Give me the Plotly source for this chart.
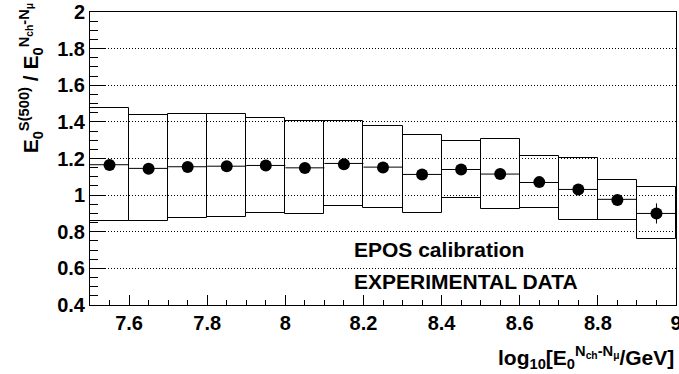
import plotly.graph_objects as go

# ---- data ----
bin_centers = [7.55, 7.65, 7.75, 7.85, 7.95, 8.05, 8.15, 8.25, 8.35, 8.45, 8.55, 8.65, 8.75, 8.85, 8.95]
box_high = [1.474, 1.437, 1.441, 1.443, 1.421, 1.403, 1.403, 1.375, 1.330, 1.295, 1.306, 1.215, 1.204, 1.082, 1.042]
box_low = [0.860, 0.858, 0.873, 0.880, 0.905, 0.896, 0.938, 0.929, 0.902, 0.984, 0.923, 0.927, 0.863, 0.863, 0.758]
box_median = [1.166, 1.146, 1.155, 1.158, 1.162, 1.149, 1.173, 1.153, 1.113, 1.140, 1.115, 1.069, 1.031, 0.977, 0.900]
mean_ratio = [1.165, 1.144, 1.153, 1.158, 1.162, 1.148, 1.169, 1.151, 1.113, 1.140, 1.115, 1.071, 1.031, 0.974, 0.900]
mean_err = [0.010, 0.010, 0.010, 0.010, 0.010, 0.010, 0.012, 0.012, 0.015, 0.015, 0.018, 0.020, 0.025, 0.030, 0.055]
x_tick_vals = [7.6, 7.8, 8.0, 8.2, 8.4, 8.6, 8.8, 9.0]
x_tick_text = ["7.6", "7.8", "8", "8.2", "8.4", "8.6", "8.8", "9"]
y_tick_vals = [0.4, 0.6, 0.8, 1.0, 1.2, 1.4, 1.6, 1.8, 2.0]
y_tick_text = ["0.4", "0.6", "0.8", "1", "1.2", "1.4", "1.6", "1.8", "2"]
bin_width = 0.1

FONT = "Liberation Sans, Arial, Helvetica, sans-serif"

fig = go.Figure()

# boxes (spread)
fig.add_trace(go.Bar(
    x=bin_centers,
    y=[h - l for h, l in zip(box_high, box_low)],
    base=box_low,
    width=bin_width,
    marker=dict(color="rgba(0,0,0,0)", line=dict(color="black", width=1)),
    hoverinfo="skip",
    showlegend=False,
))

# median lines
mx, my = [], []
for c, m in zip(bin_centers, box_median):
    mx += [c - bin_width / 2, c + bin_width / 2, None]
    my += [m, m, None]
fig.add_trace(go.Scatter(x=mx, y=my, mode="lines",
                         line=dict(color="black", width=1), showlegend=False))

# mean points
fig.add_trace(go.Scatter(
    x=bin_centers, y=mean_ratio, mode="markers",
    marker=dict(color="black", size=12, symbol="circle"),
    error_y=dict(type="data", array=mean_err, color="black", thickness=1, width=0),
    showlegend=False,
))

fig.update_layout(
    width=679, height=374,
    margin=dict(l=90, r=3, t=12, b=69),
    plot_bgcolor="white", paper_bgcolor="white",
    font=dict(family=FONT, size=20, color="black", weight="bold"),
    bargap=0,
    xaxis=dict(
        range=[7.5, 9.0], showgrid=False, zeroline=False,
        showline=True, mirror=True, linecolor="black", linewidth=1,
        ticks="inside", ticklen=10, tickwidth=1, tickcolor="black",
        tickmode="array", tickvals=x_tick_vals, ticktext=x_tick_text,
        minor=dict(ticks="inside", ticklen=5, dtick=0.05, tick0=7.5, tickcolor="black", showgrid=False),
        tickfont=dict(family=FONT, size=20, weight="bold"),
        ticklabeloverflow="allow",
        automargin=False,
    ),
    yaxis=dict(
        range=[0.4, 2.0], zeroline=False,
        showline=True, mirror=True, linecolor="black", linewidth=1,
        showgrid=True, gridcolor="black", gridwidth=1, griddash="1px,2px",
        ticks="inside", ticklen=16, tickwidth=1, tickcolor="black",
        tickmode="array", tickvals=y_tick_vals, ticktext=y_tick_text,
        minor=dict(ticks="inside", ticklen=8, dtick=0.05, tick0=0.4, tickcolor="black", showgrid=False),
        tickfont=dict(family=FONT, size=20, weight="bold"),
        ticklabeloverflow="allow",
        automargin=False,
    ),
    annotations=[
        dict(text="E<sub>0</sub><sup>S(500)</sup> / E<sub>0</sub><sup>N<sub>ch</sub>-N<sub>μ</sub></sup>",
             xref="paper", yref="paper", x=-0.1, y=0.775, textangle=-90,
             xanchor="center", yanchor="middle", showarrow=False,
             font=dict(family=FONT, size=21, weight="bold")),
        dict(text="log<sub>10</sub>[E<sub>0</sub><sup>N<sub>ch</sub>-N<sub>μ</sub></sup>/GeV]",
             xref="paper", yref="paper", x=1.0, y=-0.18, xanchor="right", yanchor="middle",
             showarrow=False, font=dict(family=FONT, size=21, weight="bold")),
        dict(text="EPOS calibration", xref="paper", yref="paper", x=0.447, y=0.188,
             xanchor="left", yanchor="middle", showarrow=False,
             font=dict(family=FONT, size=21, weight="bold")),
        dict(text="EXPERIMENTAL DATA", xref="paper", yref="paper", x=0.447, y=0.079,
             xanchor="left", yanchor="middle", showarrow=False,
             font=dict(family=FONT, size=21, weight="bold")),
    ],
)

fig.write_html("out.html")
